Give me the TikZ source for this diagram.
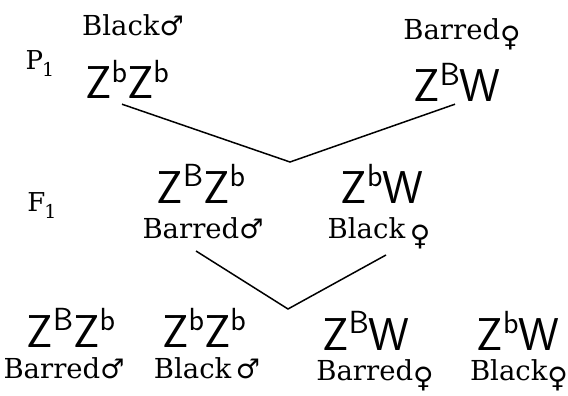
\documentclass[tikz,border=0pt]{standalone}
\usepackage{fontspec}
\newfontfamily\symf{DejaVu Sans}
\newfontfamily\labf{DejaVu Serif}
\newcommand{\malesym}{{\symf\fontsize{27}{27}\selectfont ♂}}
\newcommand{\femsym}{\raisebox{-7pt}{\symf\fontsize{28}{28}\selectfont ♀}}
\newcommand{\gz}[1]{Z\raisebox{0.36em}{\fontsize{32}{32}\selectfont #1}}
\newcommand{\gensub}[1]{#1\kern-1pt\raisebox{-7pt}{\fontsize{19}{19}\selectfont 1}}
\tikzset{
  geno/.style={font=\sffamily\fontsize{46}{46}\selectfont, inner sep=0pt, anchor=base},
  sexlab/.style={font=\labf\fontsize{27.5}{27.5}\selectfont, inner sep=0pt, anchor=base},
  gen/.style={font=\labf\fontsize{26}{26}\selectfont, inner sep=0pt, anchor=base},
  cross/.style={line width=1.5pt}
}
\begin{document}
\begin{tikzpicture}[x=1pt,y=-1pt]
\useasboundingbox (0,0) rectangle (568,396);
% P1
\node[gen] (P) at (40,70) {\gensub{P}};
\node[sexlab] (l1) at (133,36) {Black\malesym};
\node[geno] (p1m) at (127,99) {\gz{b}\gz{b}};
\node[sexlab] (l2) at (462,40) {Barred\femsym};
\node[geno] (p1f) at (457,102) {\gz{B}W};
% F1
\node[gen] (F) at (42,211) {\gensub{F}};
\node[geno] (f1m) at (201,203) {\gz{B}\gz{b}};
\node[sexlab] (l3) at (203,238) {Barred\malesym};
\node[geno] (f1f) at (382,203) {\gz{b}W};
\node[sexlab] (l4) at (379,238) {Black\,\femsym};
% F2
\node[geno] (g1) at (71,347) {\gz{B}\gz{b}};
\node[sexlab] (m1) at (64,378) {Barred\malesym};
\node[geno] (g2) at (204,347) {\gz{b}\gz{b}};
\node[sexlab] (m2) at (207,378) {Black\,\malesym};
\node[geno] (g3) at (366,350) {\gz{B}W};
\node[sexlab] (m3) at (375,380) {Barred\femsym};
\node[geno] (g4) at (518,350) {\gz{b}W};
\node[sexlab] (m4) at (519,380) {Black\femsym};
% crosses
\coordinate (v1) at (290,162);
\coordinate (v2) at (288,309);
\draw[cross] ([shift={(-5,5)}]p1m.south) -- (v1) -- ([shift={(-2,2)}]p1f.south);
\draw[cross] ([shift={(-7,13)}]l3.base) -- (v2) -- ([shift={(7,17)}]l4.base);
\end{tikzpicture}
\end{document}
